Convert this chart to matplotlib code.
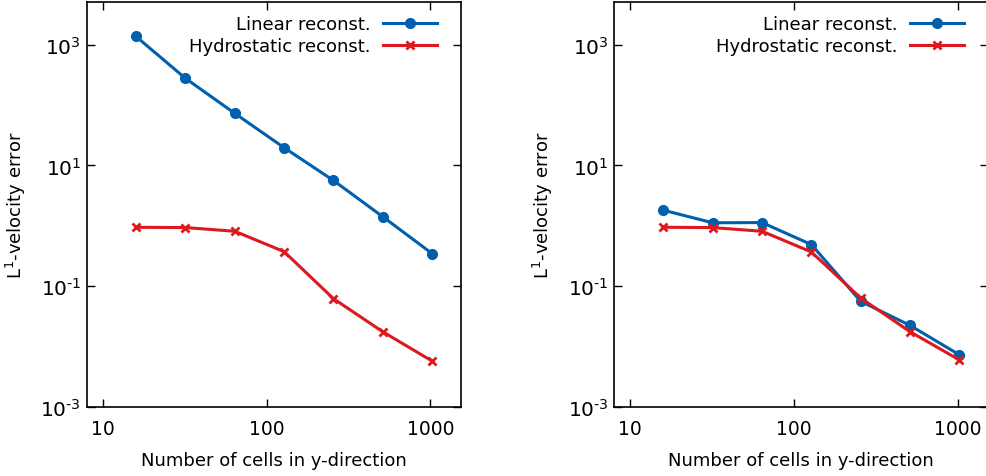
import matplotlib
matplotlib.use("Agg")
import matplotlib.pyplot as plt

cells = [16, 32, 64, 128, 256, 512, 1024]
left_linear = [1358, 276, 72.6, 19.6, 5.62, 1.41, 0.346]
left_hydro = [0.944, 0.933, 0.811, 0.373, 0.0621, 0.0176, 0.00575]
right_linear = [1.81, 1.12, 1.13, 0.488, 0.056, 0.0224, 0.0073]
right_hydro = [0.944, 0.933, 0.811, 0.368, 0.0635, 0.0176, 0.0060]

xticks = [10, 100, 1000]
xticklabels = ["10", "100", "1000"]
yticks = [1e-3, 1e-1, 1e1, 1e3]
yticklabels = [r"10$^{\text{-}3}$", r"10$^{\text{-}1}$", r"10$^{1}$", r"10$^{3}$"]
labels = ["Linear reconst.", "Hydrostatic reconst."]

blue = "#0060ad"
red = "#dd181f"

plt.rcParams["font.family"] = ["DejaVu Sans"]
plt.rcParams["mathtext.fontset"] = "dejavusans"

fig = plt.figure(figsize=(9.87, 4.77), dpi=100)
W, H = 987, 477
panels = [(86.7, left_linear, left_hydro), (614, right_linear, right_hydro)]
for x0, lin, hyd in panels:
    ax = fig.add_axes([x0 / W, 69 / H, 374.5 / W, 404.7 / H])
    ax.plot(cells, lin, color=blue, lw=2.2, marker="o", ms=7, label=labels[0])
    ax.plot(cells, hyd, color=red, lw=2.2, marker="x", ms=5.5, mew=2.0, label=labels[1])
    ax.set_xscale("log")
    ax.set_yscale("log")
    ax.set_xlim(8, 1540)
    ax.set_ylim(1e-3, 5000)
    ax.set_xticks(xticks)
    ax.set_xticklabels(xticklabels)
    ax.set_yticks(yticks)
    ax.set_yticklabels(yticklabels)
    ax.minorticks_off()
    ax.tick_params(direction="in", length=6, width=1, top=True, right=True,
                   labelsize=13.5)
    ax.tick_params(axis="x", pad=9)
    ax.tick_params(axis="y", pad=4, labelsize=14.5)
    for s in ax.spines.values():
        s.set_linewidth(1.2)
    ax.set_xlabel("Number of cells in y-direction", fontsize=13, labelpad=9)
    ax.set_ylabel(r"L$^1$-velocity error", fontsize=13)
    ax.yaxis.set_label_coords(-0.157, 0.5)
    ax.legend(loc="upper right", frameon=False, fontsize=13, markerfirst=False,
              handlelength=3.0, borderaxespad=0.0, borderpad=0.0,
              labelspacing=0.2, handletextpad=0.7,
              bbox_to_anchor=(0.9354, 0.9676))

fig.savefig("out.png", dpi=100)
